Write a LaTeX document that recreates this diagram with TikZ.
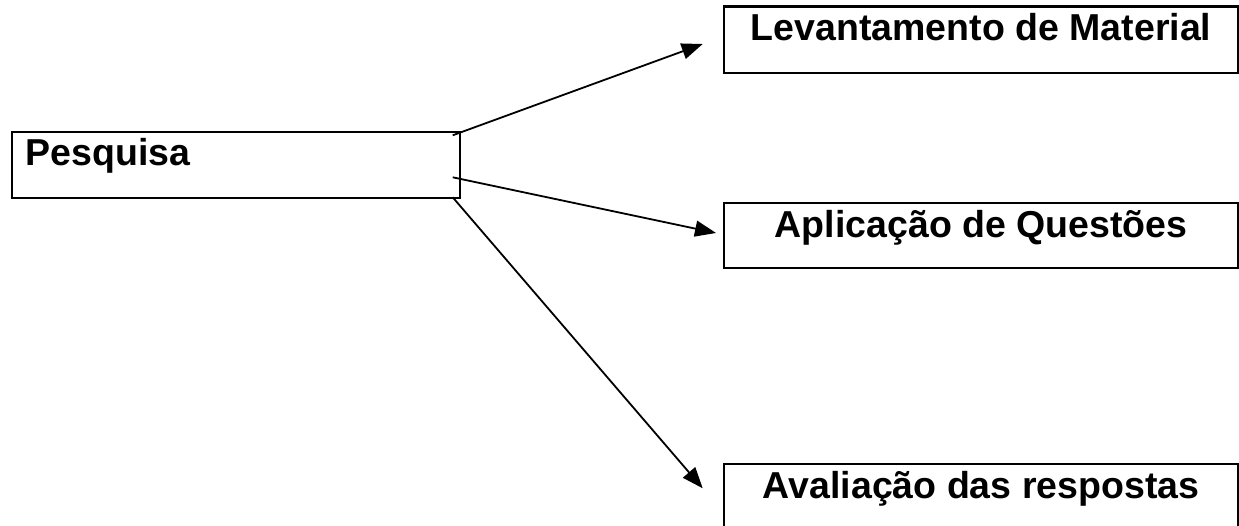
\documentclass[tikz,border=0pt]{standalone}
\usepackage{fontspec}
\setmainfont{Liberation Sans}
\usetikzlibrary{arrows.meta}
\begin{document}
\begin{tikzpicture}[x=1pt,y=-1pt,
  box/.style={draw=black, line width=2.4pt, rectangle, inner sep=0pt, anchor=north west},
  lbl/.style={font=\bfseries\fontsize{37.5}{44}\selectfont, inner sep=0pt},
  conn/.style={line width=1.8pt, -{Triangle[length=21pt,width=16pt]}}]
\useasboundingbox (0,0) rectangle (1239,526);
\clip (0,0) rectangle (1239,526);
% boxes
\node[box, minimum width=448pt, minimum height=66pt] (pes) at (10.5,131) {};
\node[box, minimum width=514.5pt, minimum height=66.7pt] (lev) at (722.7,5.3) {};
\node[box, minimum width=514.5pt, minimum height=65pt] (apl) at (722.7,202) {};
\node[box, minimum width=514.5pt, minimum height=80pt] (ava) at (722.7,462.7) {};
% labels
\node[lbl, anchor=base west] (pest) at ([xshift=15pt,yshift=-34.3pt]pes.north west) {Pesquisa};
\node[lbl, anchor=base] (levt) at ([xshift=0pt,yshift=-35.4pt]lev.north) {Levantamento de Material};
\node[lbl, anchor=base] (aplt) at ([xshift=0pt,yshift=-35.4pt]apl.north) {Aplicação de Questões};
\node[lbl, anchor=base] (avat) at ([xshift=0pt,yshift=-35.4pt]ava.north) {Avaliação das respostas};
% connector ends
\coordinate (s1) at (452.7,135.3);
\coordinate (s2) at (452.7,177.3);
\coordinate (s3) at (452.7,197.3);
\coordinate (t1) at (702.7,44);
\coordinate (t2) at (716,233);
\coordinate (t3) at (702.7,488.3);
\draw[conn] (s1) -- (t1);
\draw[conn] (s2) -- (t2);
\draw[conn] (s3) -- (t3);
\end{tikzpicture}
\end{document}
